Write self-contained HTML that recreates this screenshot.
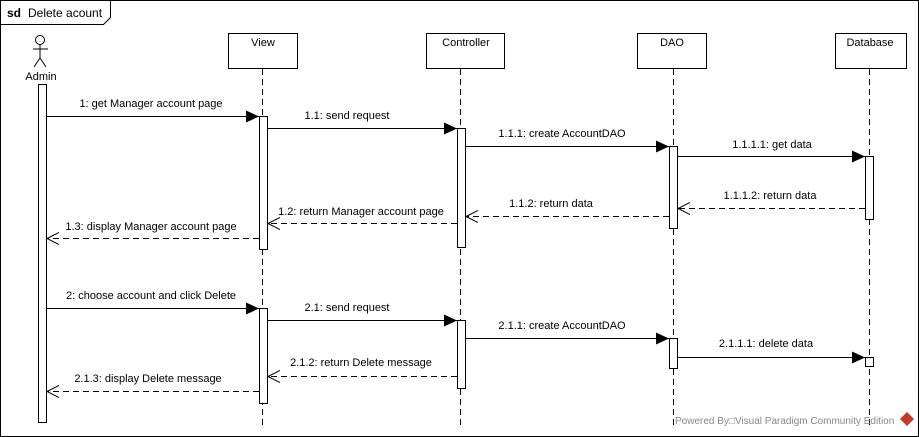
<!DOCTYPE html>
<html><head><meta charset="utf-8"><style>
html,body{margin:0;padding:0;background:#fff}
svg{display:block}
text{font-family:"Liberation Sans",sans-serif;font-size:11px;fill:#000}
</style></head><body>
<svg width="919" height="437" viewBox="0 0 919 437" xmlns="http://www.w3.org/2000/svg">
<defs>
<marker id="f" markerWidth="14" markerHeight="12" refX="13" refY="6" orient="auto" markerUnits="userSpaceOnUse"><path d="M0,0 L13,6 L0,12 Z" fill="#000"/></marker>
<marker id="o" markerWidth="14" markerHeight="14" refX="12" refY="7" orient="auto" markerUnits="userSpaceOnUse"><path d="M0,1 L12,7 L0,13" fill="none" stroke="#000"/></marker>
</defs>
<rect x="0.5" y="0.5" width="918" height="436" fill="#fff" stroke="#000"/>
<path d="M0.5,24.5 H103.5 L110.5,17.5 V0.5" fill="none" stroke="#000"/>
<text x="7" y="17" style="font-size:12px;font-weight:bold">sd</text>
<text x="28" y="17" style="font-size:12px">Delete acount</text>
<g stroke="#000" fill="none">
<circle cx="40" cy="40" r="4.5" fill="#fff"/>
<line x1="40" y1="45" x2="40" y2="58"/><line x1="33" y1="49" x2="48" y2="49"/>
<line x1="40" y1="58" x2="34" y2="67"/><line x1="40" y1="58" x2="46" y2="67"/>
</g>
<text x="41" y="80" text-anchor="middle">Admin</text>
<g stroke="#000" fill="#fff">
<rect x="228.5" y="33.5" width="69" height="35"/>
<rect x="426.5" y="33.5" width="78" height="35"/>
<rect x="637.5" y="33.5" width="69" height="35"/>
<rect x="835.5" y="33.5" width="71" height="35"/>
</g>
<text x="263" y="46" text-anchor="middle">View</text>
<text x="466" y="46" text-anchor="middle">Controller</text>
<text x="672" y="46" text-anchor="middle">DAO</text>
<text x="870" y="46" text-anchor="middle">Database</text>
<g stroke="#000" stroke-dasharray="6,4">
<line x1="262.5" y1="69" x2="262.5" y2="428"/>
<line x1="460.5" y1="69" x2="460.5" y2="428"/>
<line x1="673.5" y1="69" x2="673.5" y2="428"/>
<line x1="869.5" y1="69" x2="869.5" y2="428"/>
</g>
<g stroke="#000" fill="#fff">
<rect x="38.5" y="84.5" width="8" height="338"/>
<rect x="259.5" y="116.5" width="8" height="133"/>
<rect x="457.5" y="128.5" width="8" height="119"/>
<rect x="669.5" y="146.5" width="8" height="82"/>
<rect x="865.5" y="156.5" width="8" height="63"/>
<rect x="259.5" y="308.5" width="8" height="95"/>
<rect x="457.5" y="320.5" width="8" height="68"/>
<rect x="669.5" y="338.5" width="8" height="30"/>
<rect x="865.5" y="357.5" width="8" height="9"/>
</g>
<g stroke="#000" fill="none">
<line x1="47" y1="116.5" x2="259" y2="116.5" marker-end="url(#f)"/>
<line x1="268" y1="128.5" x2="457" y2="128.5" marker-end="url(#f)"/>
<line x1="466" y1="146.5" x2="669" y2="146.5" marker-end="url(#f)"/>
<line x1="678" y1="156.5" x2="865" y2="156.5" marker-end="url(#f)"/>
<line x1="865" y1="208.5" x2="678" y2="208.5" stroke-dasharray="6,4" marker-end="url(#o)"/>
<line x1="669" y1="216.5" x2="466" y2="216.5" stroke-dasharray="6,4" marker-end="url(#o)"/>
<line x1="457" y1="223.5" x2="268" y2="223.5" stroke-dasharray="6,4" marker-end="url(#o)"/>
<line x1="259" y1="238.5" x2="47" y2="238.5" stroke-dasharray="6,4" marker-end="url(#o)"/>
<line x1="47" y1="308.5" x2="259" y2="308.5" marker-end="url(#f)"/>
<line x1="268" y1="320.5" x2="457" y2="320.5" marker-end="url(#f)"/>
<line x1="466" y1="338.5" x2="669" y2="338.5" marker-end="url(#f)"/>
<line x1="678" y1="357.5" x2="865" y2="357.5" marker-end="url(#f)"/>
<line x1="457" y1="376.5" x2="268" y2="376.5" stroke-dasharray="6,4" marker-end="url(#o)"/>
<line x1="259" y1="391.5" x2="47" y2="391.5" stroke-dasharray="6,4" marker-end="url(#o)"/>
</g>
<g text-anchor="middle">
<text x="151" y="107">1: get Manager account page</text>
<text x="347" y="119">1.1: send request</text>
<text x="562" y="137">1.1.1: create AccountDAO</text>
<text x="772" y="148">1.1.1.1: get data</text>
<text x="770" y="199">1.1.1.2: return data</text>
<text x="551" y="207">1.1.2: return data</text>
<text x="361" y="215">1.2: return Manager account page</text>
<text x="151" y="230">1.3: display Manager account page</text>
<text x="151" y="299">2: choose account and click Delete</text>
<text x="347" y="311">2.1: send request</text>
<text x="562" y="329">2.1.1: create AccountDAO</text>
<text x="766" y="347">2.1.1.1: delete data</text>
<text x="361" y="366">2.1.2: return Delete message</text>
<text x="148" y="382">2.1.3: display Delete message</text>
</g>
<text x="675" y="424" style="font-size:10px;fill:#888">Powered By□Visual Paradigm Community Edition</text>
<path d="M907,412 L914,419 L907,426 L900,419 Z" fill="#c0392b"/>
</svg>
</body></html>
